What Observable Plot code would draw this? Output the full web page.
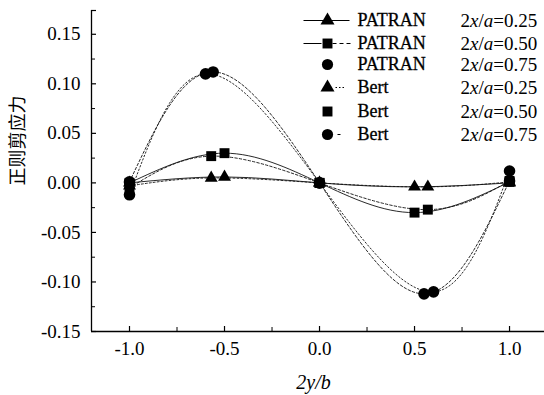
<!DOCTYPE html>
<html>
<head>
<meta charset="utf-8">
<script src="https://cdn.jsdelivr.net/npm/d3@7"></script>
<script src="https://cdn.jsdelivr.net/npm/@observablehq/plot@0.6"></script>
<style>
  html, body { margin: 0; padding: 0; background: #fff; }
  #chart { width: 544px; height: 395px; }
  #chart svg text { font-family: "Liberation Serif", "Times New Roman", serif; }
  #chart svg .ylab text { font-family: "Noto Sans CJK SC", sans-serif; }
</style>
</head>
<body>
<div id="chart"></div>
<script>
// ---- data ----
const xPatran25 = [-1, -0.5, 0, 0.5, 1];
const yPatran25 = [0.000, 0.006, 0, -0.004, 0.000];
const xPatran50 = [-1, -0.5, 0, 0.5, 1];
const yPatran50 = [0.000, 0.030, 0, -0.030, 0.001];
const xPatran75 = [-1, -0.56, 0, 0.55, 1];
const yPatran75 = [0.001, 0.112, 0, -0.112, 0.002];
const xBert25 = [-1, -0.57, 0, 0.57, 1];
const yBert25 = [-0.003, 0.005, 0, -0.004, 0.001];
const xBert50 = [-1, -0.57, 0, 0.57, 1];
const yBert50 = [-0.005, 0.027, 0, -0.027, 0.002];
const xBert75 = [-1, -0.6, 0, 0.6, 1];
const yBert75 = [-0.012, 0.110, 0, -0.110, 0.012];

const legendNames = ["PATRAN", "PATRAN", "PATRAN", "Bert", "Bert", "Bert"];
const legendValues = ["0.25", "0.50", "0.75", "0.25", "0.50", "0.75"];

const xMajorTicks = [-1.0, -0.5, 0.0, 0.5, 1.0];
const xMinorTicks = [-0.75, -0.25, 0.25, 0.75];
const yMajorTicks = [-0.15, -0.10, -0.05, 0.00, 0.05, 0.10, 0.15];
const yMinorTicks = [-0.125, -0.075, -0.025, 0.025, 0.075, 0.125];

const xLabel = "2y/b";
const yLabel = "正则剪应力";

// ---- build tables ----
const seriesDefs = [
  {xs: xPatran25, ys: yPatran25, symbol: "triangle", r: 4.8, dash: null},
  {xs: xPatran50, ys: yPatran50, symbol: "square", r: 5.6, dash: null},
  {xs: xPatran75, ys: yPatran75, symbol: "circle", r: 5.8, dash: "2.5,2"},
  {xs: xBert25, ys: yBert25, symbol: "triangle", r: 4.8, dash: "2,2"},
  {xs: xBert50, ys: yBert50, symbol: "square", r: 5.6, dash: "2.5,2"},
  {xs: xBert75, ys: yBert75, symbol: "circle", r: 5.8, dash: "1.5,2.2"}
];
const toRows = (s) => s.xs.map((x, i) => ({x, y: s.ys[i]}));

const W = 544, H = 395;
const mL = 91, mR = 0, mT = 10, mB = 64;
const innerW = W - mL - mR, innerH = H - mT - mB;
const xDomain = [-1.2, 1.184];
const yDomain = [-0.15, 0.174];
const serif = "'Liberation Serif', 'Times New Roman', serif";

const marks = [];

// series lines & markers
seriesDefs.forEach(s => {
  marks.push(Plot.line(toRows(s), {
    x: "x", y: "y", curve: "natural",
    stroke: "#111", strokeWidth: 0.9,
    strokeDasharray: s.dash || undefined
  }));
});
seriesDefs.forEach(s => {
  marks.push(Plot.dot(toRows(s), {
    x: "x", y: "y", symbol: s.symbol, r: s.r, fill: "#000", stroke: "none"
  }));
});

// axes lines
marks.push(Plot.ruleX([xDomain[0]], {stroke: "#000", strokeWidth: 1.3}));
marks.push(Plot.ruleY([yDomain[0]], {stroke: "#000", strokeWidth: 1.3}));
// inward ticks
marks.push(Plot.ruleY(yMajorTicks.concat([yDomain[1]]), {y: d => d, insetRight: innerW - 5, stroke: "#000", strokeWidth: 1.2}));
marks.push(Plot.ruleY(yMinorTicks, {y: d => d, insetRight: innerW - 4, stroke: "#000", strokeWidth: 1}));
marks.push(Plot.ruleX(xMajorTicks, {x: d => d, insetTop: innerH - 5, stroke: "#000", strokeWidth: 1.2}));
marks.push(Plot.ruleX(xMinorTicks, {x: d => d, insetTop: innerH - 4, stroke: "#000", strokeWidth: 1}));

// tick labels
marks.push(Plot.axisY(yMajorTicks, {
  tickSize: 0, tickPadding: 11, label: null,
  tickFormat: d => d.toFixed(2), fontSize: 19, fill: "#000",
  fontFamily: serif, stroke: "#000", strokeWidth: 0.35
}));
marks.push(Plot.axisX(xMajorTicks, {
  tickSize: 0, tickPadding: 10, label: null,
  tickFormat: d => d.toFixed(1), fontSize: 19, fill: "#000",
  fontFamily: serif, stroke: "#000", strokeWidth: 0.35
}));

// axis titles
marks.push(Plot.text([xLabel], {
  text: d => d, frameAnchor: "bottom", dx: -4.5, dy: 51,
  lineAnchor: "middle", fontStyle: "italic", fontSize: 20, fill: "#000",
  fontFamily: serif
}));
marks.push(Plot.text([yLabel], {
  text: d => d, frameAnchor: "left", dx: -73.5, dy: 14.5, rotate: -90,
  lineAnchor: "middle", fontSize: 18, fill: "#000",
  fontFamily: "Noto Sans CJK SC", className: "ylab"
}));

// legend
const legendRowY = [20, 43, 64, 87, 111, 134];
const legendMarkX = 327;
const hline = (x0, x1) => ({draw(ctx) { ctx.moveTo(x0, 0); ctx.lineTo(x1, 0); }});
const legendLines = [
  [{x0: -24, x1: 22, dash: null}],
  [{x0: -24, x1: -6, dash: null}, {x0: 5, x1: 23, dash: "4,3"}],
  [],
  [{x0: 8, x1: 18, dash: "1.5,2"}],
  [],
  [{x0: 10, x1: 13, dash: null}]
];
legendRowY.forEach((ry, i) => {
  legendLines[i].forEach(seg => {
    marks.push(Plot.dot([0], {
      frameAnchor: "top-left", dx: legendMarkX - mL, dy: ry - mT,
      symbol: hline(seg.x0, seg.x1), r: 1, fill: "none", stroke: "#000",
      strokeWidth: 1, strokeDasharray: seg.dash || undefined
    }));
  });
  const s = seriesDefs[i];
  marks.push(Plot.dot([0], {
    frameAnchor: "top-left", dx: legendMarkX - mL, dy: ry - mT,
    symbol: s.symbol, r: s.symbol === "triangle" ? 5.2 : 5.6, fill: "#000", stroke: "none"
  }));
  marks.push(Plot.text([legendNames[i]], {
    text: d => d, frameAnchor: "top-left", dx: 357 - mL, dy: ry - mT,
    textAnchor: "start", lineAnchor: "middle", fontSize: 18, fill: "#000",
    fontFamily: serif, stroke: "#000", strokeWidth: 0.3
  }));
  marks.push(Plot.text([legendValues[i]], {
    text: d => d, frameAnchor: "top-left", dx: 460 - mL, dy: ry - mT,
    textAnchor: "start", lineAnchor: "middle", fontSize: 19, fill: "#000",
    fontFamily: serif, className: "legval"
  }));
});

const chart = Plot.plot({
  width: W, height: H,
  marginLeft: mL, marginRight: mR, marginTop: mT, marginBottom: mB,
  x: {domain: xDomain, axis: null},
  y: {domain: yDomain, axis: null},
  style: {fontFamily: serif, background: "#fff", color: "#000"},
  marks
});

// italic variables in legend values: 2x/a=0.25
d3.select(chart).selectAll(".legval text").each(function() {
  const t = d3.select(this);
  const v = t.text();
  t.text(null);
  t.append("tspan").text("2");
  t.append("tspan").attr("font-style", "italic").text("x");
  t.append("tspan").text("/");
  t.append("tspan").attr("font-style", "italic").text("a");
  t.append("tspan").text("=" + v);
});

document.getElementById("chart").appendChild(chart);
</script>
</body>
</html>
